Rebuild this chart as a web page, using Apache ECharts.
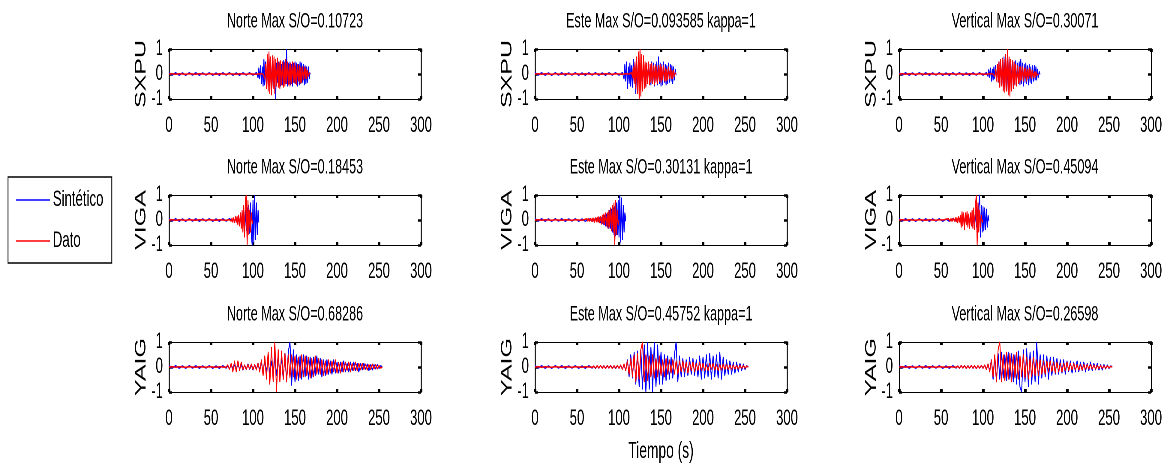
<!DOCTYPE html>
<html><head><meta charset="utf-8">
<script src="https://cdn.jsdelivr.net/npm/echarts@6/dist/echarts.min.js"></script>
<style>
html,body{margin:0;padding:0;background:#fff;overflow:hidden;width:1169px;height:469px}
#c{height:469px;transform-origin:0 0}
</style>
</head><body><div id="c"></div>
<script>
// ---------------- DATA ----------------
const STATIONS = ['SXPU', 'VIGA', 'YAIG'];
const TITLES = [
  ['Norte Max S/O=0.10723', 'Este Max S/O=0.093585 kappa=1', 'Vertical Max S/O=0.30071'],
  ['Norte Max S/O=0.18453', 'Este Max S/O=0.30131 kappa=1', 'Vertical Max S/O=0.45094'],
  ['Norte Max S/O=0.68286', 'Este Max S/O=0.45752 kappa=1', 'Vertical Max S/O=0.26598']
];
const X_MIN = 0, X_MAX = 300, X_STEP = 50;
const Y_MIN = -1, Y_MAX = 1, Y_STEP = 1;
const LEGEND_NAMES = ['Sintético', 'Dato'];
const X_NAME = 'Tiempo (s)';

// quiet pre-event traces, sampled every 4 s from t = 0
const QUIET_DT = 4;
const BLUE_QUIET = [0.05,-0.04,0.05,-0.05,0.04,-0.05,0.05,-0.04,0.05,-0.05,0.04,-0.04,0.05,-0.05,0.04,-0.05,0.05,-0.04,0.05,-0.05,0.04,-0.05,0.05,-0.04,0.05,-0.05,0.06,-0.05,0.06];
const RED_QUIET = [0,0.01,-0.01,0.01,0,-0.01,0.01,0,-0.01,0.01,0,-0.01,0.01,0,-0.01,0.01,0,-0.01,0.01,0,-0.01,0.01,0,-0.01,0.01,0,-0.01,0.01,0];

// event start times (s) and sampling step (s) of the event part
const SYN_T0 = [[105, 105, 105], [77, 75, 75], [70, 70, 70]];
const DAT_T0 = [[113, 115, 113], [73, 60, 55], [70, 70, 70]];
const ROW_DT = [1, 1, 2];

// SXPU
const SXPU_N_SYN = [0.1,-0.15,0.25,-0.2,0.35,-0.4,0.3,-0.5,0.6,-0.45,0.5,-0.6,0.55,-0.5,0.65,-0.4,0.5,-0.55,0.45,-0.6,0.4,-0.5,-1.0,0.45,-0.35,0.5,-0.4,0.45,-0.5,0.4,-0.45,0.55,-0.35,0.5,-0.4,1.0,-0.5,0.45,-0.4,0.5,-0.45,0.4,-0.5,0.45,-0.35,0.5,-0.4,0.45,-0.5,0.4,-0.45,0.5,-0.4,0.45,-0.35,0.4,-0.45,0.35,-0.4,0.3,-0.35,0.3,-0.2,0.05];
const SXPU_N_DAT = [0.05,-0.2,0.4,-0.6,0.8,-0.7,0.9,-0.8,0.7,-0.85,0.75,-0.6,0.7,-0.8,0.6,-0.5,0.65,-0.55,0.5,-0.6,0.55,-0.45,0.5,-0.55,0.45,-0.5,0.6,-0.4,0.5,-0.45,0.4,-0.5,0.45,-0.4,0.5,-0.35,0.45,-0.4,0.35,-0.45,0.4,-0.3,0.35,-0.4,0.3,-0.35,0.3,-0.25,0.3,-0.2,0.25,-0.2,0.15,-0.1,0.05,0];
const SXPU_E_SYN = [0.05,-0.2,0.4,-0.3,0.5,-0.6,0.3,-0.4,0.45,-0.5,0.35,-0.55,0.6,-0.4,0.5,-0.8,0.45,-0.6,0.5,-0.45,0.55,-0.5,0.4,-0.45,0.5,-0.4,0.35,-0.5,0.45,-0.4,0.5,-0.35,0.4,-0.45,0.5,-0.4,0.45,-0.5,0.4,-0.35,0.5,-0.45,0.7,-0.4,0.45,-0.5,0.4,-0.45,0.5,-0.35,0.4,-0.45,0.35,-0.4,0.45,-0.35,0.4,-0.3,0.35,-0.4,0.3,-0.25,0.2,-0.05];
const SXPU_E_DAT = [0.05,-0.15,0.3,-0.4,0.5,-0.6,0.7,-0.8,0.9,-1.0,1.0,-0.9,0.8,-0.7,0.75,-0.6,0.5,-0.55,0.45,-0.4,0.5,-0.45,0.4,-0.35,0.45,-0.4,0.35,-0.45,0.4,-0.35,0.3,-0.4,0.35,-0.3,0.4,-0.35,0.3,-0.25,0.35,-0.3,0.25,-0.3,0.2,-0.25,0.3,-0.2,0.25,-0.2,0.15,-0.2,0.15,-0.1,0.05,0];
const SXPU_V_SYN = [0.05,-0.1,0.2,-0.15,0.25,-0.3,0.2,-0.25,0.3,-0.2,0.35,-0.3,0.4,-0.35,0.5,-0.45,0.6,-0.5,0.55,-0.65,0.7,-0.6,0.75,-0.7,0.6,-0.8,0.65,-0.55,0.6,-0.5,0.55,-0.6,0.5,-0.45,0.55,-0.5,0.45,-0.4,0.5,-0.45,0.6,-0.4,0.45,-0.5,0.4,-0.35,0.45,-0.4,0.35,-0.45,0.4,-0.35,0.3,-0.4,0.35,-0.3,0.35,-0.25,0.3,-0.25,0.2,-0.15,0.1,-0.02];
const SXPU_V_DAT = [0.03,-0.1,0.2,-0.3,0.4,-0.35,0.5,-0.55,0.6,-0.5,0.65,-0.7,0.6,-0.75,0.8,-0.7,1.0,-0.85,0.7,-0.9,0.6,-0.7,0.55,-0.6,0.5,-0.45,0.4,-0.5,0.35,-0.4,0.3,-0.35,0.3,-0.25,0.3,-0.3,0.25,-0.2,0.25,-0.3,0.2,-0.2,0.25,-0.15,0.2,-0.2,0.15,-0.15,0.1,-0.15,0.1,-0.05,0.03,0];
// VIGA
const VIGA_N_SYN = [0.05,-0.08,0.1,-0.1,0.12,-0.15,0.15,-0.2,0.2,-0.25,0.3,-0.25,0.35,-0.3,0.4,-0.45,0.5,-0.4,0.6,-0.55,0.7,-0.6,-1.0,0.8,-0.9,1.0,-0.8,0.7,-0.6,0.4,-0.1];
const VIGA_N_DAT = [0.05,-0.05,0.08,-0.1,0.1,-0.12,0.15,-0.1,0.15,-0.2,0.2,-0.25,0.3,-0.35,0.4,-0.5,0.6,-0.7,0.85,1.0,-1.0,0.8,-0.6,0.4,-0.5,0.3,-0.15,0];
const VIGA_E_SYN = [0.05,-0.08,0.1,-0.12,0.1,-0.15,0.15,-0.2,0.2,-0.25,0.25,-0.3,0.3,-0.35,0.4,-0.35,0.45,-0.5,0.5,-0.6,0.55,-0.65,0.7,-0.6,0.8,-0.7,1.0,-0.9,0.9,-0.8,0.6,-0.5,0.3,-0.05];
const VIGA_E_DAT = [0.03,-0.04,0.05,-0.05,0.06,-0.05,0.07,-0.06,0.08,-0.07,0.08,-0.1,0.1,-0.08,0.12,-0.1,0.15,-0.12,0.15,-0.18,0.2,-0.15,0.25,-0.2,0.3,-0.25,0.3,-0.35,0.4,-0.3,0.5,-0.45,0.6,-0.5,0.7,-1.0,0.8,-0.6,0.4,-0.2,0];
const VIGA_V_SYN = [0.05,-0.08,0.1,-0.1,0.15,-0.12,0.2,-0.15,0.2,-0.25,0.25,-0.2,0.3,-0.3,0.25,-0.35,0.4,-0.3,0.45,-0.5,0.6,1.0,-0.7,0.6,-0.5,0.55,-0.45,0.5,-0.4,0.45,-0.3,0.2,-0.05];
const VIGA_V_DAT = [0.02,-0.03,0.04,-0.03,0.05,-0.04,0.05,-0.05,0.06,-0.05,0.08,-0.06,0.1,-0.08,0.1,-0.12,0.15,-0.1,0.2,-0.3,0.35,-0.25,0.3,-0.4,0.3,-0.2,0.35,-0.3,0.25,-0.35,0.3,-0.25,0.4,-0.35,0.5,-0.4,0.6,1.0,-1.0,0.7,-0.5,0.4,-0.3,0.2,-0.1,0];
// YAIG
const YAIG_N_SYN = [0.05,-0.08,0.1,-0.06,0.08,-0.1,0.12,-0.08,0.1,-0.12,0.08,-0.1,0.12,-0.1,0.08,-0.12,0.1,-0.08,0.15,-0.12,
  0.2,-0.25,0.3,-0.2,0.35,-0.3,0.25,-0.4,0.45,-0.35, 0.5,-0.45,0.4,-0.5,0.55,-0.6,0.6,1.0,-0.75,0.7,
  -0.6,0.5,-0.55,0.45,-0.5,0.5,-0.4,0.45,-0.5,0.4, -0.45,0.4,-0.35,0.45,-0.3,0.35,-0.4,0.3,-0.35,0.3,
  -0.3,0.25,-0.3,0.3,-0.25,0.2,-0.25,0.2,-0.2,0.25, -0.2,0.15,-0.2,0.2,-0.15,0.2,-0.15,0.15,-0.2,0.15,
  -0.12,0.15,-0.1,0.12,-0.15,0.1,-0.12,0.1,-0.08,0.1,-0.06,0.05,0];
const YAIG_N_DAT = [0.08,-0.1,0.15,-0.2,0.25,-0.2,0.25,-0.15,0.2,-0.1, 0.08,-0.1,0.1,-0.08,0.12,-0.1,0.1,-0.12,0.15,-0.2,
  0.3,-0.35,0.45,-0.5,0.6,-0.7,0.8,-0.6,1.0,-1.0, 0.7,-0.6,0.65,-0.5,0.55,-0.6,0.5,-0.45,0.5,-0.4,
  0.45,-0.5,0.4,-0.45,0.5,-0.4,0.45,-0.35,0.4,-0.45, 0.35,-0.4,0.45,-0.3,0.35,-0.3,0.3,-0.35,0.25,-0.3,
  0.3,-0.25,0.25,-0.2,0.3,-0.25,0.2,-0.25,0.2,-0.2, 0.2,-0.15,0.2,-0.2,0.15,-0.15,0.2,-0.15,0.15,-0.12,
  0.15,-0.1,0.12,-0.12,0.1,-0.1,0.12,-0.08,0.1,-0.08,0.06,-0.04,0];
const YAIG_E_SYN = [0.04,-0.06,0.05,-0.05,0.06,-0.04,0.05,-0.06,0.05,-0.04,0.06,-0.05,0.04,-0.06,0.05,-0.05,0.06,-0.08,0.1,-0.15,
  0.3,-0.4,0.5,-0.45,0.6,-0.7,0.65,-0.8,0.7,-0.9, 0.9,-1.0,1.0,-0.9,0.8,-1.0,1.0,-0.8,0.9,-0.7,
  0.6,-0.7,0.5,-0.55,0.45,-0.5,0.4,-0.45,0.5,1.0, -0.6,0.45,-0.4,0.35,-0.4,0.3,-0.35,0.4,-0.3,0.35,
  -0.35,0.3,-0.4,0.45,-0.5,0.4,-0.45,0.5,-0.4,0.55, -0.5,0.45,-0.4,0.5,-0.45,0.6,-0.5,0.4,-0.35,0.3,
  -0.3,0.25,-0.3,0.2,-0.25,0.2,-0.2,0.15,-0.15,0.12,-0.1,0.05,0];
const YAIG_E_DAT = [0.03,-0.04,0.05,-0.04,0.06,-0.05,0.04,-0.05,0.06,-0.04,0.05,-0.06,0.05,-0.04,0.06,-0.05,0.08,-0.1,0.12,-0.15,
  0.25,-0.3,0.35,-0.4,0.5,-0.6,0.55,-0.5,0.7,1.0, -0.6,0.5,-0.55,0.45,-0.4,0.5,-0.45,0.35,-0.4,0.45,
  -0.35,0.3,-0.4,0.35,-0.3,0.3,-0.25,0.3,-0.3,0.25, -0.3,0.25,-0.2,0.25,-0.2,0.2,-0.25,0.2,-0.15,0.2,
  -0.2,0.15,-0.15,0.2,-0.15,0.15,-0.15,0.1,-0.15,0.15, -0.1,0.15,-0.12,0.1,-0.15,0.1,-0.12,0.12,-0.1,0.1,
  -0.1,0.08,-0.1,0.08,-0.08,0.06,-0.08,0.06,-0.05,0.05,-0.04,0.03,0];
const YAIG_V_SYN = [0.04,-0.05,0.06,-0.04,0.05,-0.06,0.05,-0.04,0.06,-0.05,0.04,-0.06,0.05,-0.05,0.06,-0.05,0.08,-0.1,0.12,-0.15,
  0.3,-0.5,0.4,-0.6,0.55,-0.5,0.6,-0.45,0.5,-0.55, 0.6,-0.5,0.55,-0.6,0.5,-0.7,0.65,-0.8,-1.0,0.7,
  -0.6,0.75,-0.8,0.6,-0.7,0.65,-0.6,1.0,-0.7,0.5, -0.45,0.5,-0.4,0.45,-0.5,0.4,-0.35,0.4,-0.3,0.35,
  -0.3,0.3,-0.25,0.3,-0.3,0.25,-0.2,0.25,-0.25,0.2, -0.2,0.25,-0.2,0.2,-0.15,0.2,-0.2,0.15,-0.15,0.2,
  -0.15,0.15,-0.12,0.15,-0.12,0.1,-0.12,0.1,-0.08,0.08,-0.06,0.04,0];
const YAIG_V_DAT = [0.03,-0.04,0.05,-0.04,0.06,-0.05,0.04,-0.05,0.06,-0.04,0.05,-0.06,0.05,-0.04,0.06,-0.05,0.08,-0.1,0.12,-0.2,
  0.3,-0.4,0.5,-0.6,0.7,1.0,-0.6,0.5,-0.55,0.6, -0.5,0.55,-0.6,0.5,-0.45,0.6,-0.5,0.45,-0.4,0.5,
  -0.45,0.4,-0.5,0.35,-0.4,0.4,-0.35,0.3,-0.35,0.3, -0.3,0.25,-0.3,0.25,-0.2,0.25,-0.2,0.2,-0.25,0.2,
  -0.2,0.15,-0.2,0.15,-0.15,0.2,-0.15,0.15,-0.12,0.15, -0.12,0.1,-0.12,0.1,-0.12,0.1,-0.1,0.1,-0.08,0.1,
  -0.08,0.08,-0.08,0.06,-0.06,0.06,-0.05,0.05,-0.05,0.04,-0.03,0.02,0];

const SYN = [[SXPU_N_SYN, SXPU_E_SYN, SXPU_V_SYN], [VIGA_N_SYN, VIGA_E_SYN, VIGA_V_SYN], [YAIG_N_SYN, YAIG_E_SYN, YAIG_V_SYN]];
const DAT = [[SXPU_N_DAT, SXPU_E_DAT, SXPU_V_DAT], [VIGA_N_DAT, VIGA_E_DAT, VIGA_V_DAT], [YAIG_N_DAT, YAIG_E_DAT, YAIG_V_DAT]];

// ---------------- BUILD ----------------
function build(quiet, values, t0, dt) {
  const pts = [];
  for (let i = 0; i < quiet.length && i * QUIET_DT < t0; i++) pts.push([i * QUIET_DT, quiet[i]]);
  values.forEach((v, i) => pts.push([t0 + i * dt, v]));
  return pts;
}

// The reference figure is horizontally squeezed; draw in a wider space and squeeze it the same way.
const SQ = 0.6;
const W = 1169;
const el = document.getElementById('c');
el.style.width = (W / SQ) + 'px';
el.style.transform = 'scaleX(' + SQ + ')';
const hx = v => v / SQ;

const FONT = '"Liberation Sans", Arial, sans-serif';
const COL_LEFT = [169, 535, 899];
const ROW_TOP = [49, 195, 342];
const PW = 252, PH = 50;

const grids = [], xAxes = [], yAxes = [], series = [], titles = [];
for (let r = 0; r < 3; r++) {
  for (let c = 0; c < 3; c++) {
    const k = r * 3 + c;
    grids.push({left: hx(COL_LEFT[c]), top: ROW_TOP[r], width: hx(PW), height: PH, show: false});
    const xtick = {show: true, inside: true, length: 3, lineStyle: {color: '#000', width: 4}};
    const ytick = {show: true, inside: true, length: 5, lineStyle: {color: '#000', width: 2.5}};
    const xb = {gridIndex: k, type: 'value', min: X_MIN, max: X_MAX, interval: X_STEP, position: 'bottom',
      axisLine: {show: true, onZero: false, lineStyle: {color: '#000', width: 1}}, axisTick: xtick, splitLine: {show: false},
      axisLabel: {color: '#000', fontSize: 22, fontFamily: FONT, margin: 16}};
    if (r === 2 && c === 1) {
      xb.name = X_NAME; xb.nameLocation = 'middle'; xb.nameGap = 48;
      xb.nameTextStyle = {color: '#000', fontSize: 23, fontFamily: FONT};
    }
    xAxes.push(xb);
    xAxes.push({gridIndex: k, type: 'value', min: X_MIN, max: X_MAX, interval: X_STEP, position: 'top',
      axisLine: {show: true, onZero: false, lineStyle: {color: '#000', width: 1}}, axisTick: xtick, splitLine: {show: false},
      axisLabel: {show: false}});
    yAxes.push({gridIndex: k, type: 'value', min: Y_MIN, max: Y_MAX, interval: Y_STEP, position: 'left',
      axisLine: {show: true, onZero: false, lineStyle: {color: '#000', width: 1.7}}, axisTick: ytick, splitLine: {show: false},
      axisLabel: {color: '#000', fontSize: 22, fontFamily: FONT, margin: 10},
      name: STATIONS[r], nameLocation: 'middle', nameGap: 31, nameRotate: 90,
      nameTextStyle: {color: '#000', fontSize: 25, fontFamily: FONT}});
    yAxes.push({gridIndex: k, type: 'value', min: Y_MIN, max: Y_MAX, interval: Y_STEP, position: 'right',
      axisLine: {show: true, onZero: false, lineStyle: {color: '#000', width: 1.7}}, axisTick: ytick, splitLine: {show: false},
      axisLabel: {show: false}});
    series.push({type: 'line', name: LEGEND_NAMES[0], xAxisIndex: 2 * k, yAxisIndex: 2 * k, symbol: 'none', showSymbol: false,
      data: build(BLUE_QUIET, SYN[r][c], SYN_T0[r][c], ROW_DT[r]),
      lineStyle: {color: '#0000ff', width: 1.5}, itemStyle: {color: '#0000ff'}, clip: true, silent: true});
    series.push({type: 'line', name: LEGEND_NAMES[1], xAxisIndex: 2 * k, yAxisIndex: 2 * k, symbol: 'none', showSymbol: false,
      data: build(RED_QUIET, DAT[r][c], DAT_T0[r][c], ROW_DT[r]),
      lineStyle: {color: '#ff0000', width: 1.5}, itemStyle: {color: '#ff0000'}, clip: true, silent: true});
    titles.push({text: TITLES[r][c], left: hx(COL_LEFT[c] + PW / 2), top: ROW_TOP[r] - 38, textAlign: 'center', padding: 0,
      textStyle: {color: '#000', fontSize: 21, fontWeight: 'normal', fontFamily: FONT}});
  }
}

const chart = echarts.init(el, null, {renderer: 'canvas', devicePixelRatio: 2});
chart.setOption({
  animation: false,
  backgroundColor: '#fff',
  title: titles,
  legend: {
    data: LEGEND_NAMES.map(n => ({name: n, icon: 'rect'})),
    orient: 'vertical', left: hx(8), top: 177, padding: [12, 14, 11, 13], itemGap: 19,
    itemWidth: hx(34), itemHeight: 1.5, borderColor: '#000', borderWidth: 1.5, selectedMode: false,
    textStyle: {color: '#000', fontSize: 22, fontFamily: FONT}},
  grid: grids, xAxis: xAxes, yAxis: yAxes, series: series
});
</script></body></html>
